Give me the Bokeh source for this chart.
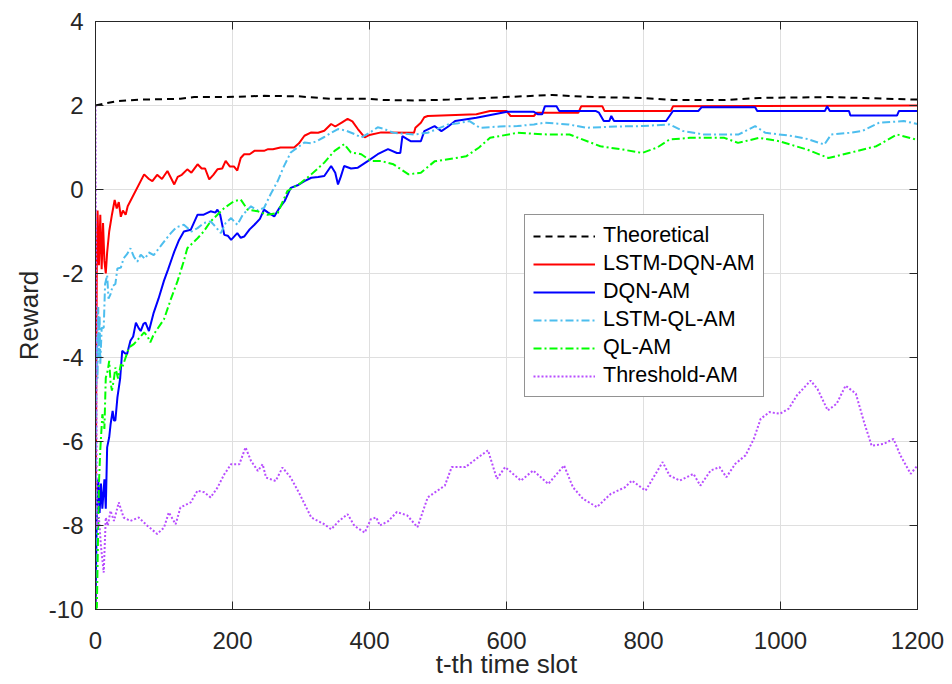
from bokeh.plotting import figure
from bokeh.models import Range1d, LinearAxis, Legend, LegendItem, FixedTicker
from bokeh.embed import file_html
from bokeh.resources import INLINE

# ---------------- data ----------------
x_ticks = [0, 200, 400, 600, 800, 1000, 1200]
y_ticks = [-10, -8, -6, -4, -2, 0, 2, 4]
y_tick_labels = ["-10", "-8", "-6", "-4", "-2", "0", "2", "4"]

theo_x = [0, 15, 30, 66, 124, 144, 188, 246, 295, 344, 398, 422, 465, 516, 597, 667, 727, 798, 843, 919, 969, 1070, 1120, 1200]
theo_y = [2.0, 2.05, 2.1, 2.14, 2.16, 2.2, 2.2, 2.23, 2.22, 2.16, 2.16, 2.13, 2.12, 2.14, 2.2, 2.25, 2.2, 2.18, 2.13, 2.13, 2.18, 2.2, 2.18, 2.14]

lstm_dqn_x = [0, 1, 2, 3, 5, 7, 9, 11, 13, 15, 17, 20, 24, 28, 31, 34, 37, 40, 44, 47, 71, 78, 83, 90, 97, 105, 115, 120, 126, 134, 140, 149, 155, 160, 166, 172, 178, 185, 190, 196, 202, 207, 212, 217, 225, 232, 246, 252, 259, 270, 290, 297, 305, 315, 325, 334, 344, 350, 360, 368, 375, 383, 393, 400, 417, 465, 467, 475, 480, 485, 556, 576, 600, 606, 640, 644, 705, 709, 740, 743, 840, 843, 1200]
lstm_dqn_y = [-10, -5, -1.5, -0.5, -1.8, -0.6, -1.9, -0.8, -1.7, -2.0, -1.5, -1.0, -0.6, -0.25, -0.45, -0.3, -0.65, -0.5, -0.6, -0.4, 0.36, 0.25, 0.2, 0.35, 0.25, 0.44, 0.12, 0.3, 0.35, 0.48, 0.4, 0.6, 0.5, 0.5, 0.24, 0.35, 0.48, 0.5, 0.68, 0.55, 0.55, 0.45, 0.75, 0.84, 0.84, 0.92, 0.92, 0.96, 0.96, 1.0, 1.0, 1.1, 1.28, 1.36, 1.35, 1.4, 1.56, 1.5, 1.6, 1.68, 1.62, 1.44, 1.24, 1.3, 1.36, 1.35, 1.47, 1.59, 1.72, 1.75, 1.79, 1.87, 1.87, 1.75, 1.75, 1.83, 1.83, 1.98, 1.98, 1.87, 1.87, 1.98, 2.0]

dqn_x = [0, 2, 4, 6, 8, 10, 13, 15, 17, 20, 22, 25, 27, 29, 32, 36, 39, 43, 46, 51, 55, 59, 63, 66, 70, 73, 78, 85, 92, 100, 106, 112, 115, 122, 129, 139, 149, 158, 168, 175, 178, 182, 188, 193, 198, 207, 212, 217, 225, 232, 240, 246, 252, 261, 268, 276, 285, 295, 305, 315, 325, 334, 344, 350, 354, 358, 363, 373, 383, 398, 412, 427, 440, 445, 448, 455, 460, 475, 480, 495, 505, 515, 525, 556, 601, 640, 646, 652, 656, 673, 677, 730, 735, 742, 750, 753, 757, 833, 843, 880, 885, 963, 966, 1065, 1068, 1072, 1100, 1102, 1170, 1173, 1200]
dqn_y = [-10, -7.6, -6.9, -7.7, -7.0, -7.6, -6.9, -7.6, -6.14, -5.9, -5.59, -5.27, -5.5, -5.5, -4.95, -4.5, -3.84, -3.9, -3.92, -3.6, -3.5, -3.17, -3.3, -3.37, -3.2, -3.17, -3.37, -2.93, -2.6, -2.17, -1.9, -1.62, -1.48, -1.2, -1.0, -0.96, -0.6, -0.6, -0.52, -0.55, -0.48, -0.6, -1.08, -1.1, -1.2, -1.04, -1.15, -1.12, -0.95, -0.84, -0.7, -0.48, -0.55, -0.64, -0.45, -0.28, 0.04, 0.1, 0.2, 0.28, 0.3, 0.32, 0.56, 0.4, 0.12, 0.3, 0.56, 0.5, 0.52, 0.68, 0.84, 0.96, 0.87, 0.87, 1.27, 1.2, 1.15, 1.15, 1.39, 1.51, 1.39, 1.5, 1.63, 1.71, 1.85, 1.85, 1.79, 1.79, 1.98, 1.98, 1.87, 1.87, 1.83, 1.63, 1.63, 1.75, 1.63, 1.63, 1.87, 1.87, 1.96, 1.96, 1.87, 1.87, 1.98, 1.87, 1.87, 1.76, 1.76, 1.87, 1.87]

lstm_ql_x = [0, 1, 2, 3, 4, 5, 6, 7, 9, 12, 14, 17, 19, 22, 25, 29, 32, 37, 41, 46, 51, 56, 61, 66, 72, 78, 85, 95, 102, 110, 118, 129, 140, 149, 158, 168, 176, 183, 190, 198, 207, 215, 227, 236, 246, 256, 266, 275, 285, 295, 305, 315, 324, 334, 344, 354, 366, 378, 388, 400, 412, 420, 435, 465, 485, 500, 515, 530, 546, 561, 590, 616, 640, 656, 690, 717, 760, 798, 838, 858, 888, 939, 963, 978, 1019, 1040, 1064, 1074, 1100, 1119, 1144, 1180, 1200]
lstm_ql_y = [-10, -5, -3.5, -4.5, -2.8, -4.0, -3.0, -4.16, -3.3, -3.29, -2.25, -2.04, -2.6, -2.49, -2.3, -2.25, -1.88, -1.86, -1.64, -1.54, -1.4, -1.6, -1.72, -1.55, -1.65, -1.5, -1.56, -1.35, -1.2, -1.04, -0.9, -0.84, -1.0, -0.92, -0.8, -0.76, -0.9, -1.04, -0.8, -0.68, -0.84, -0.6, -0.4, -0.5, -0.44, -0.1, 0.2, 0.55, 0.88, 1.0, 1.12, 1.1, 1.16, 1.25, 1.35, 1.44, 1.4, 1.32, 1.24, 1.35, 1.48, 1.45, 1.35, 1.31, 1.35, 1.45, 1.55, 1.58, 1.63, 1.47, 1.5, 1.51, 1.55, 1.59, 1.55, 1.47, 1.5, 1.51, 1.55, 1.39, 1.31, 1.31, 1.51, 1.35, 1.27, 1.2, 1.07, 1.31, 1.35, 1.39, 1.59, 1.63, 1.56]

ql_x = [0, 2, 5, 7, 10, 13, 15, 18, 20, 22, 24, 27, 29, 33, 37, 39, 44, 49, 56, 63, 71, 76, 80, 85, 90, 100, 110, 120, 129, 134, 149, 158, 168, 178, 188, 202, 212, 222, 237, 251, 266, 280, 300, 315, 334, 349, 363, 373, 388, 402, 417, 435, 457, 475, 495, 541, 560, 576, 616, 660, 692, 737, 770, 798, 820, 838, 868, 918, 938, 969, 998, 1039, 1070, 1100, 1140, 1170, 1198, 1200]
ql_y = [-10, -9.95, -7.0, -6.2, -5.35, -5.7, -4.48, -4.3, -4.08, -4.6, -4.79, -4.5, -4.24, -4.5, -4.16, -4.24, -4.0, -3.76, -3.68, -3.55, -3.4, -3.5, -3.64, -3.45, -3.33, -3.09, -2.61, -2.17, -1.7, -1.4, -1.16, -1.0, -0.76, -0.6, -0.44, -0.28, -0.24, -0.48, -0.52, -0.6, -0.56, -0.04, 0.16, 0.36, 0.64, 0.92, 1.08, 0.88, 0.84, 0.68, 0.68, 0.6, 0.36, 0.4, 0.67, 0.79, 1.0, 1.23, 1.35, 1.31, 1.31, 1.03, 0.95, 0.87, 1.0, 1.19, 1.23, 1.23, 1.11, 1.23, 1.15, 0.95, 0.75, 0.87, 1.03, 1.31, 1.19, 1.19]

thr_x = [0, 2, 5, 8, 12, 15, 18, 22, 27, 34, 41, 51, 63, 76, 90, 100, 107, 117, 124, 139, 149, 159, 168, 178, 188, 198, 210, 219, 227, 237, 244, 249, 263, 273, 285, 298, 315, 334, 344, 355, 368, 378, 393, 402, 410, 415, 427, 440, 455, 470, 485, 510, 520, 540, 556, 573, 586, 598, 621, 639, 661, 684, 697, 712, 732, 752, 773, 783, 803, 828, 838, 853, 873, 883, 898, 911, 921, 934, 949, 961, 971, 984, 999, 1012, 1024, 1044, 1054, 1069, 1082, 1095, 1110, 1122, 1133, 1150, 1165, 1175, 1190, 1200]
thr_y = [2.0, -8.05, -7.8, -8.5, -9.12, -7.81, -8.0, -7.65, -7.89, -7.45, -7.81, -7.89, -7.81, -8.01, -8.2, -8.05, -7.69, -7.97, -7.57, -7.45, -7.17, -7.21, -7.33, -7.1, -6.78, -6.54, -6.54, -6.14, -6.46, -6.7, -6.54, -6.86, -6.94, -6.62, -6.86, -7.25, -7.81, -7.97, -8.09, -7.9, -7.73, -8.01, -8.17, -7.85, -7.81, -8.0, -7.9, -7.68, -7.76, -8.04, -7.33, -7.05, -6.61, -6.61, -6.41, -6.21, -6.89, -6.61, -6.93, -6.69, -7.01, -6.57, -7.09, -7.37, -7.56, -7.25, -7.09, -6.93, -7.17, -6.49, -6.81, -6.93, -6.77, -7.05, -6.69, -6.61, -6.85, -6.53, -6.33, -5.94, -5.46, -5.3, -5.34, -5.22, -4.9, -4.55, -4.75, -5.26, -5.1, -4.67, -4.86, -5.54, -6.1, -6.06, -5.94, -6.33, -6.77, -6.57]

series_names = ["Theoretical", "LSTM-DQN-AM", "DQN-AM", "LSTM-QL-AM", "QL-AM", "Threshold-AM"]

# ---------------- figure ----------------
FONT = "Liberation Sans"
AX = "#262626"

p = figure(width=944, height=684, output_backend="svg", toolbar_location=None,
           x_range=Range1d(0, 1200), y_range=Range1d(-10, 4),
           min_border_left=95, min_border_right=27, min_border_top=21, min_border_bottom=75)
p.background_fill_color = "white"
p.border_fill_color = "white"
p.outline_line_color = AX
p.outline_line_width = 1

for ax in (p.xaxis[0], p.yaxis[0]):
    ax.major_tick_in = 8
    ax.major_tick_out = 0
    ax.minor_tick_in = 0
    ax.minor_tick_out = 0
    ax.axis_line_color = AX
    ax.major_tick_line_color = AX
    ax.major_label_text_color = AX
    ax.major_label_text_font = FONT
    ax.major_label_text_font_size = "24px"
    ax.axis_label_text_font = FONT
    ax.axis_label_text_font_size = "26px"
    ax.axis_label_text_font_style = "normal"
    ax.axis_label_text_color = AX

p.xaxis.ticker = FixedTicker(ticks=x_ticks)
p.yaxis.ticker = FixedTicker(ticks=y_ticks)
p.yaxis.major_label_overrides = {t: s for t, s in zip(y_ticks, y_tick_labels)}
p.xaxis.axis_label = "t-th time slot"
p.yaxis.axis_label = "Reward"
p.xaxis.major_label_standoff = 22
p.xaxis.axis_label_standoff = -3
p.yaxis.major_label_standoff = 12
p.yaxis.axis_label_standoff = 2

# box ticks on top and right (labels not drawn)
top = LinearAxis(ticker=FixedTicker(ticks=x_ticks), major_tick_in=8, major_tick_out=0,
                 minor_tick_in=0, minor_tick_out=0, major_label_text_font_size="1px",
                 major_label_text_color=None, major_label_standoff=0,
                 axis_line_color=AX, major_tick_line_color=AX)
right = LinearAxis(ticker=FixedTicker(ticks=y_ticks), major_tick_in=8, major_tick_out=0,
                   minor_tick_in=0, minor_tick_out=0, major_label_text_font_size="1px",
                   major_label_text_color=None, major_label_standoff=0,
                   axis_line_color=AX, major_tick_line_color=AX)
p.add_layout(top, "above")
p.add_layout(right, "right")

p.xgrid.grid_line_color = "#DFDFDF"
p.ygrid.grid_line_color = "#DFDFDF"
p.xgrid.ticker = FixedTicker(ticks=x_ticks)
p.ygrid.ticker = FixedTicker(ticks=y_ticks)

LW = 2.0
r_theo = p.line(theo_x, theo_y, line_color="black", line_width=LW, line_dash="7 5")
r_ld = p.line(lstm_dqn_x, lstm_dqn_y, line_color="#FF0000", line_width=LW)
r_d = p.line(dqn_x, dqn_y, line_color="#0000FF", line_width=LW)
r_lq = p.line(lstm_ql_x, lstm_ql_y, line_color="#4DBEEE", line_width=LW, line_dash="8 3 2 3")
r_q = p.line(ql_x, ql_y, line_color="#00FF00", line_width=LW, line_dash="8 3 2 3")
r_t = p.line(thr_x, thr_y, line_color="#B84DFF", line_width=LW, line_dash="2 2")

items = [LegendItem(label=n, renderers=[r]) for n, r in
         zip(series_names, [r_theo, r_ld, r_d, r_lq, r_q, r_t])]
legend = Legend(items=items, location=(429, 212), padding=8, spacing=3,
                glyph_width=62, glyph_height=22, label_height=22, label_standoff=8,
                label_text_font=FONT, label_text_font_size="21.5px", label_text_color="black",
                border_line_color=AX, border_line_width=1, background_fill_color="white",
                background_fill_alpha=1.0, margin=0)
p.add_layout(legend, "center")

open("out.html", "w").write(file_html(p, INLINE))
